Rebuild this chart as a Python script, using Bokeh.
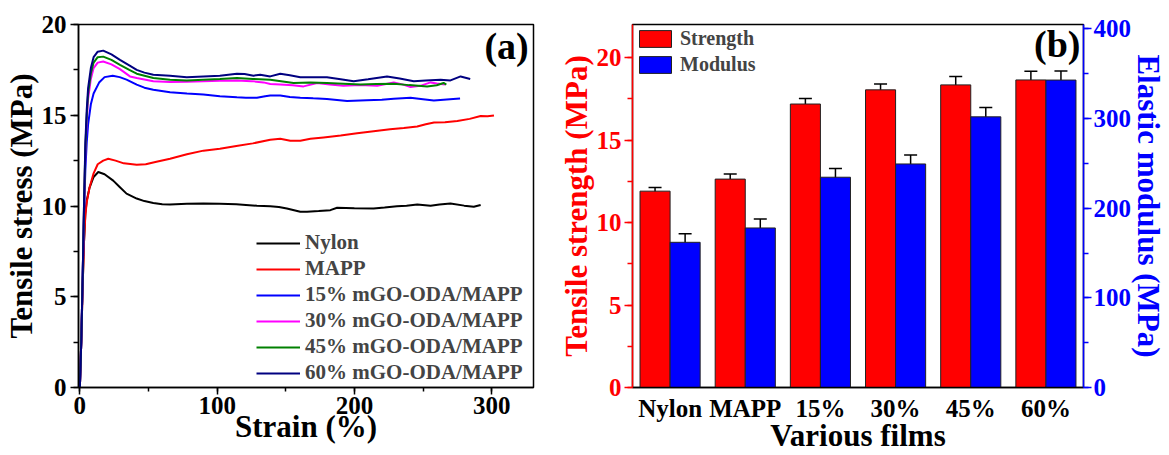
from bokeh.plotting import figure
from bokeh.models import (Range1d, LinearAxis, SingleIntervalTicker, Label, Whisker,
                          ColumnDataSource, FactorRange, TeeHead)
from bokeh.transform import dodge
from bokeh.layouts import row
from bokeh.embed import file_html
from bokeh.resources import INLINE

FONT = "Liberation Serif"

# ---------------- Panel (a): stress-strain curves ----------------
nylon_strain = [0, 1, 2, 3, 4, 5, 7, 10, 13.4, 18, 24.3, 29, 34, 41.4, 47, 53.5, 60, 65.7, 78, 90, 102, 114,
                121, 129, 138.7, 145, 150.8, 160.6, 165.5, 174, 182.5, 187.4, 200, 214, 222, 231, 238, 245.8,
                255.5, 262, 270, 280, 287, 292]
nylon_stress = [0, 2.5, 5.5, 8, 9.6, 10.3, 11.0, 11.6, 11.87, 11.75, 11.4, 11.05, 10.68, 10.41, 10.27, 10.17,
                10.1, 10.08, 10.12, 10.14, 10.12, 10.1, 10.06, 10.01, 9.99, 9.95, 9.86, 9.68, 9.68, 9.72, 9.77,
                9.9, 9.88, 9.86, 9.92, 9.99, 10.02, 10.08, 10.01, 10.08, 10.14, 10.02, 9.96, 10.06]

mapp_strain = [0, 1, 2, 3, 4, 5, 7, 10, 13, 17, 20.7, 26, 32, 41.4, 48, 55, 65.7, 78, 90, 102, 114, 126, 138.7,
               146, 153.3, 160.6, 168, 177.6, 190, 202, 214, 226, 236, 245.8, 252, 258, 266, 275, 284, 292, 297,
               301.7]
mapp_stress = [0, 2.5, 5.5, 8, 9.5, 10.2, 11.0, 11.8, 12.3, 12.5, 12.6, 12.5, 12.35, 12.27, 12.3, 12.42, 12.6,
               12.85, 13.05, 13.15, 13.3, 13.45, 13.65, 13.7, 13.6, 13.6, 13.7, 13.78, 13.88, 14.01, 14.12, 14.23,
               14.3, 14.38, 14.5, 14.6, 14.62, 14.68, 14.8, 14.96, 14.94, 14.99]

p15_strain = [0, 1, 2, 3, 4, 5, 6, 8, 10, 14, 18, 23.9, 29, 34, 41.4, 47, 53.5, 65.7, 78, 90, 102, 114.4, 121,
              129, 135, 138.7, 146, 153, 160.6, 170, 180, 194.7, 209, 220, 228.7, 240.9, 250, 257.9, 265, 272, 277]
p15_stress = [0, 2.5, 6, 9.5, 12, 13.5, 14.5, 15.6, 16.2, 16.8, 17.1, 17.18, 17.1, 16.96, 16.69, 16.52, 16.41,
              16.27, 16.2, 16.14, 16.05, 15.99, 15.97, 15.96, 16.05, 16.09, 16.09, 16.0, 15.96, 15.93, 15.9,
              15.78, 15.83, 15.85, 15.91, 15.96, 15.88, 15.81, 15.86, 15.9, 15.92]

p30_strain = [0, 1, 2, 3, 4, 5, 6, 8, 10, 13, 17, 23, 29.2, 36.5, 41.4, 53.5, 65.7, 78, 90, 102, 114.4, 125,
              133.8, 138.7, 146, 155, 163, 172.8, 182, 192, 204, 216.6, 228.7, 235, 240.9, 248, 255.5, 260, 266]
p30_stress = [0, 2.5, 6, 9.8, 13, 14.7, 15.9, 17.0, 17.6, 17.9, 17.96, 17.8, 17.54, 17.14, 17.05, 16.87, 16.83,
              16.85, 16.87, 16.9, 16.92, 16.88, 16.81, 16.72, 16.69, 16.65, 16.59, 16.78, 16.7, 16.63, 16.66,
              16.63, 16.81, 16.7, 16.56, 16.62, 16.81, 16.75, 16.69]

p45_strain = [0, 1, 2, 3, 4, 5, 6, 8, 10, 13, 17, 23, 29.2, 36, 41.4, 53.5, 65.7, 77.9, 90, 102, 114.4, 126,
              138.7, 155.7, 168, 180, 192, 204.4, 216, 228.7, 240, 253, 260, 265, 267]
p45_stress = [0, 2.5, 6, 10, 13.2, 15, 16.2, 17.3, 17.9, 18.2, 18.23, 18.05, 17.78, 17.5, 17.29, 17.05, 16.96,
              16.92, 16.96, 17.0, 17.05, 17.0, 16.96, 16.78, 16.8, 16.78, 16.74, 16.69, 16.72, 16.74, 16.66,
              16.59, 16.65, 16.78, 16.69]

p60_strain = [0, 1, 2, 3, 4, 5, 6, 8, 10, 13, 17, 23, 29.2, 36, 41.4, 47, 53.5, 65.7, 77.9, 90, 102, 114.4, 120,
              126.5, 131.4, 138.7, 146, 153, 160.6, 170, 180, 190, 199.5, 210, 223.8, 233, 243.3, 252, 262.8,
              270, 277.4, 284.4]
p60_stress = [0, 2.5, 6, 10, 13.5, 15.3, 16.5, 17.6, 18.2, 18.5, 18.56, 18.35, 18.05, 17.75, 17.5, 17.35, 17.23,
              17.18, 17.1, 17.14, 17.18, 17.29, 17.27, 17.18, 17.23, 17.14, 17.29, 17.2, 17.09, 17.1, 17.09,
              16.98, 16.87, 16.98, 17.14, 17.02, 16.87, 16.92, 16.96, 16.92, 17.14, 17.0]

curve_labels = ["Nylon", "MAPP", "15% mGO-ODA/MAPP", "30% mGO-ODA/MAPP", "45% mGO-ODA/MAPP", "60% mGO-ODA/MAPP"]
curve_colors = ["#000000", "#FF0000", "#0000FF", "#FF00FF", "#008000", "#000080"]

# ---------------- Panel (b): bar chart ----------------
films = ["Nylon", "MAPP", "15%", "30%", "45%", "60%"]
strength = [11.9, 12.63, 17.18, 18.04, 18.34, 18.64]
strength_err = [0.22, 0.31, 0.33, 0.35, 0.51, 0.53]
modulus = [162, 178, 234.6, 249.4, 302, 343]
modulus_err = [9.6, 10.0, 9.8, 10.0, 10.3, 10.0]


def style_axis(ax, color="black", label_size="25px", title_size="31px"):
    ax.axis_line_color = color
    ax.axis_line_width = 1.5
    ax.major_tick_line_color = color
    ax.minor_tick_line_color = color
    ax.major_tick_line_width = 1.5
    ax.minor_tick_line_width = 1.5
    ax.major_tick_in = 0
    ax.minor_tick_in = 0
    ax.major_tick_out = 8
    ax.minor_tick_out = 5
    ax.major_label_text_font = FONT
    ax.major_label_text_font_style = "bold"
    ax.major_label_text_font_size = label_size
    ax.major_label_text_color = color
    ax.axis_label_text_font = FONT
    ax.axis_label_text_font_style = "bold"
    ax.axis_label_text_font_size = title_size
    ax.axis_label_text_color = color


# ----- figure (a) -----
p1 = figure(width=552, height=455, output_backend="svg", toolbar_location=None,
            x_range=Range1d(-1, 330.5), y_range=Range1d(0, 20),
            min_border_left=78, min_border_right=19, min_border_top=24, min_border_bottom=64)
p1.xgrid.visible = False
p1.ygrid.visible = False
p1.outline_line_color = "black"
p1.outline_line_width = 1.5
p1.background_fill_color = "white"
p1.border_fill_color = "white"

series = [(nylon_strain, nylon_stress), (mapp_strain, mapp_stress), (p15_strain, p15_stress),
          (p30_strain, p30_stress), (p45_strain, p45_stress), (p60_strain, p60_stress)]
for (xs, ys), lab, col in zip(series, curve_labels, curve_colors):
    p1.line(xs, ys, line_color=col, line_width=2, legend_label=lab)

xax1 = p1.xaxis[0]
yax1 = p1.yaxis[0]
xax1.ticker = SingleIntervalTicker(interval=100, num_minor_ticks=2)
yax1.ticker = SingleIntervalTicker(interval=5, num_minor_ticks=2)
style_axis(xax1)
style_axis(yax1)
xax1.major_tick_out = 7
xax1.minor_tick_out = 4
xax1.axis_label = "Strain (%)"
yax1.axis_label = "Tensile stress (MPa)"
xax1.major_label_standoff = 2
xax1.axis_label_standoff = -8
xax1.major_label_text_line_height = 0.9
xax1.axis_label_text_line_height = 0.9
yax1.major_label_standoff = 4
yax1.axis_label_standoff = 0

lg1 = p1.legend[0]
lg1.location = (178, 2)
lg1.border_line_color = None
lg1.background_fill_alpha = 0
lg1.padding = 0
lg1.margin = 0
lg1.spacing = 1
lg1.glyph_width = 44
lg1.glyph_height = 20
lg1.label_height = 20
lg1.label_standoff = 5
lg1.label_text_font = FONT
lg1.label_text_font_style = "bold"
lg1.label_text_font_size = "21px"

p1.add_layout(Label(x=327, y=18.8, text="(a)", text_align="right", text_baseline="alphabetic",
                    text_font=FONT, text_font_style="bold", text_font_size="38px", text_color="black"))

# ----- figure (b) -----
src = ColumnDataSource(dict(
    cat=films, strength=strength, modulus=modulus,
    s_up=[v + e for v, e in zip(strength, strength_err)],
    s_lo=[v - e for v, e in zip(strength, strength_err)],
    m_up=[v + e for v, e in zip(modulus, modulus_err)],
    m_lo=[v - e for v, e in zip(modulus, modulus_err)],
))

p2 = figure(width=617, height=455, output_backend="svg", toolbar_location=None,
            x_range=FactorRange(*films), y_range=Range1d(0, 22),
            min_border_left=80, min_border_right=83, min_border_top=24, min_border_bottom=64)
p2.extra_y_ranges = {"mod": Range1d(0, 405)}
p2.xgrid.visible = False
p2.ygrid.visible = False
p2.outline_line_color = "black"
p2.outline_line_width = 1.5
p2.background_fill_color = "white"
p2.border_fill_color = "white"

p2.vbar(x=dodge("cat", -0.2, range=p2.x_range), top="strength", width=0.4, source=src,
        fill_color="#FF0000", line_color="#222222", line_width=1, legend_label="Strength")
p2.vbar(x=dodge("cat", 0.2, range=p2.x_range), top="modulus", width=0.4, source=src,
        fill_color="#0000FF", line_color="#222222", line_width=1, legend_label="Modulus",
        y_range_name="mod")

w1 = Whisker(base=dodge("cat", -0.2, range=p2.x_range), upper="s_up", lower="s_lo", source=src,
             line_color="black", line_width=1.5,
             upper_head=TeeHead(size=13, line_color="black", line_width=1.5),
             lower_head=TeeHead(size=13, line_color="black", line_width=1.5))
w2 = Whisker(base=dodge("cat", 0.2, range=p2.x_range), upper="m_up", lower="m_lo", source=src,
             line_color="black", line_width=1.5, y_range_name="mod",
             upper_head=TeeHead(size=13, line_color="black", line_width=1.5),
             lower_head=TeeHead(size=13, line_color="black", line_width=1.5))
p2.add_layout(w1)
p2.add_layout(w2)

yax2 = p2.yaxis[0]
yax2.ticker = SingleIntervalTicker(interval=5, num_minor_ticks=2)
style_axis(yax2, color="#FF0000")
yax2.axis_label = "Tensile strength (MPa)"
yax2.major_label_standoff = 3
yax2.axis_label_standoff = 0

xax2 = p2.xaxis[0]
style_axis(xax2)
xax2.major_tick_out = 0
xax2.minor_tick_out = 0
xax2.major_label_standoff = 7
xax2.axis_label = "Various films"
xax2.axis_label_standoff = -7
xax2.major_label_text_line_height = 0.9
xax2.axis_label_text_line_height = 0.9

rax = LinearAxis(y_range_name="mod", axis_label="Elastic modulus (MPa)",
                 ticker=SingleIntervalTicker(interval=100, num_minor_ticks=2))
style_axis(rax, color="#0000FF")
rax.major_label_standoff = 2
rax.axis_label_standoff = -3
p2.add_layout(rax, "right")

lg2 = p2.legend[0]
lg2.location = "top_left"
lg2.border_line_color = None
lg2.background_fill_alpha = 0
lg2.padding = 2
lg2.margin = 3
lg2.spacing = 3
lg2.glyph_width = 40
lg2.glyph_height = 21
lg2.label_height = 20
lg2.label_standoff = 5
lg2.label_text_font = FONT
lg2.label_text_font_style = "bold"
lg2.label_text_font_size = "20px"

p2.add_layout(Label(x=448, y=20.8, x_units="screen", text="(b)", text_align="right",
                    text_baseline="alphabetic", text_font=FONT, text_font_style="bold",
                    text_font_size="38px", text_color="black"))

layout = row(p1, p2)
open("out.html", "w").write(file_html(layout, INLINE))
